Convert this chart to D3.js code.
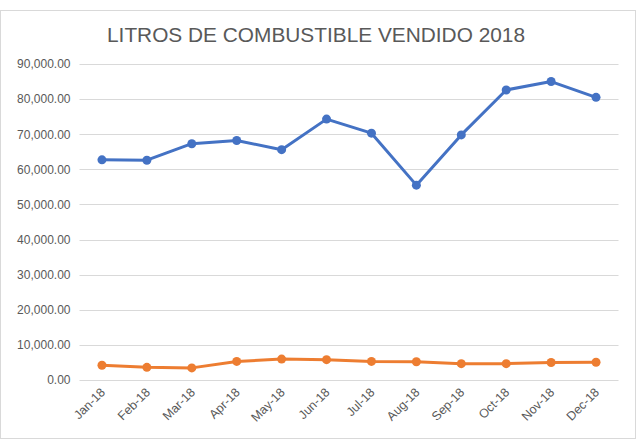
<!DOCTYPE html>
<html>
<head>
<meta charset="utf-8">
<script src="https://cdn.jsdelivr.net/npm/d3@7"></script>
<style>
  body { margin: 0; background: #fff; }
  text { font-family: "Liberation Sans", Arial, sans-serif; }
</style>
</head>
<body>
<svg id="container"></svg>
<script>
/* CONSTANTS AND GLOBALS */
const width = 640,
  height = 441,
  margin = { top: 64, right: 21.5, bottom: 61, left: 79.5 };

/* DATA */
const months = ["Jan-18", "Feb-18", "Mar-18", "Apr-18", "May-18", "Jun-18",
  "Jul-18", "Aug-18", "Sep-18", "Oct-18", "Nov-18", "Dec-18"];
const seriesBlue = [62700, 62600, 67300, 68200, 65600, 74300,
  70300, 55500, 69800, 82600, 85000, 80500];
const seriesOrange = [4200, 3600, 3450, 5300, 5950, 5800,
  5300, 5200, 4650, 4650, 5000, 5050];
const yTicks = [0, 10000, 20000, 30000, 40000, 50000, 60000, 70000, 80000, 90000];

const svg = d3.select("#container")
  .attr("width", width)
  .attr("height", height);

// chart area frame
svg.append("rect")
  .attr("x", 0.5).attr("y", 10.5)
  .attr("width", 635).attr("height", 428)
  .attr("fill", "#fff")
  .attr("stroke", "#D9D9D9");

/* SCALES */
const xScale = d3.scaleBand()
  .domain(months)
  .range([margin.left, width - margin.right]);

const yScale = d3.scaleLinear()
  .domain([0, 90000])
  .range([height - margin.bottom, margin.top]);

// gridlines
svg.append("g")
  .selectAll("line")
  .data(yTicks)
  .join("line")
  .attr("x1", margin.left)
  .attr("x2", width - margin.right)
  .attr("y1", d => Math.round(yScale(d)) + 0.5)
  .attr("y2", d => Math.round(yScale(d)) + 0.5)
  .attr("stroke", "#D9D9D9")
  .attr("stroke-width", 1);

// y axis labels
const fmt = d3.format(",.2f");
const yAxis = d3.axisLeft(yScale).tickValues(yTicks).tickFormat(fmt).tickSize(0).tickPadding(9);
svg.append("g")
  .attr("transform", `translate(${margin.left},0)`)
  .call(yAxis)
  .call(g => g.select(".domain").remove())
  .selectAll("text")
  .attr("font-size", "12px")
  .attr("fill", "#595959");

// x axis labels
const xAxis = d3.axisBottom(xScale).tickSize(0).tickPadding(0);
svg.append("g")
  .attr("transform", `translate(0,${height - margin.bottom})`)
  .call(xAxis)
  .call(g => g.select(".domain").remove())
  .selectAll("text")
  .attr("font-size", "12.5px")
  .attr("fill", "#595959")
  .attr("text-anchor", "end")
  .attr("dy", "0")
  .attr("transform", "translate(4,13) rotate(-45)");

/* LINES */
const line = d3.line()
  .x((d, i) => xScale(months[i]) + xScale.bandwidth() / 2)
  .y(d => yScale(d));

[[seriesBlue, "#4472C4"], [seriesOrange, "#ED7D31"]].forEach(([vals, color]) => {
  svg.append("path")
    .datum(vals)
    .attr("d", line)
    .attr("fill", "none")
    .attr("stroke", color)
    .attr("stroke-width", 3)
    .attr("stroke-linejoin", "round");
  svg.append("g")
    .selectAll("circle")
    .data(vals)
    .join("circle")
    .attr("cx", (d, i) => xScale(months[i]) + xScale.bandwidth() / 2)
    .attr("cy", d => yScale(d))
    .attr("r", 4.5)
    .attr("fill", color);
});

/* TITLE */
svg.append("text")
  .attr("x", 316)
  .attr("y", 42)
  .attr("text-anchor", "middle")
  .attr("font-size", "19.5px")
  .attr("textLength", 418)
  .attr("lengthAdjust", "spacingAndGlyphs")
  .attr("fill", "#595959")
  .text("LITROS DE COMBUSTIBLE VENDIDO 2018");
</script>
</body>
</html>
